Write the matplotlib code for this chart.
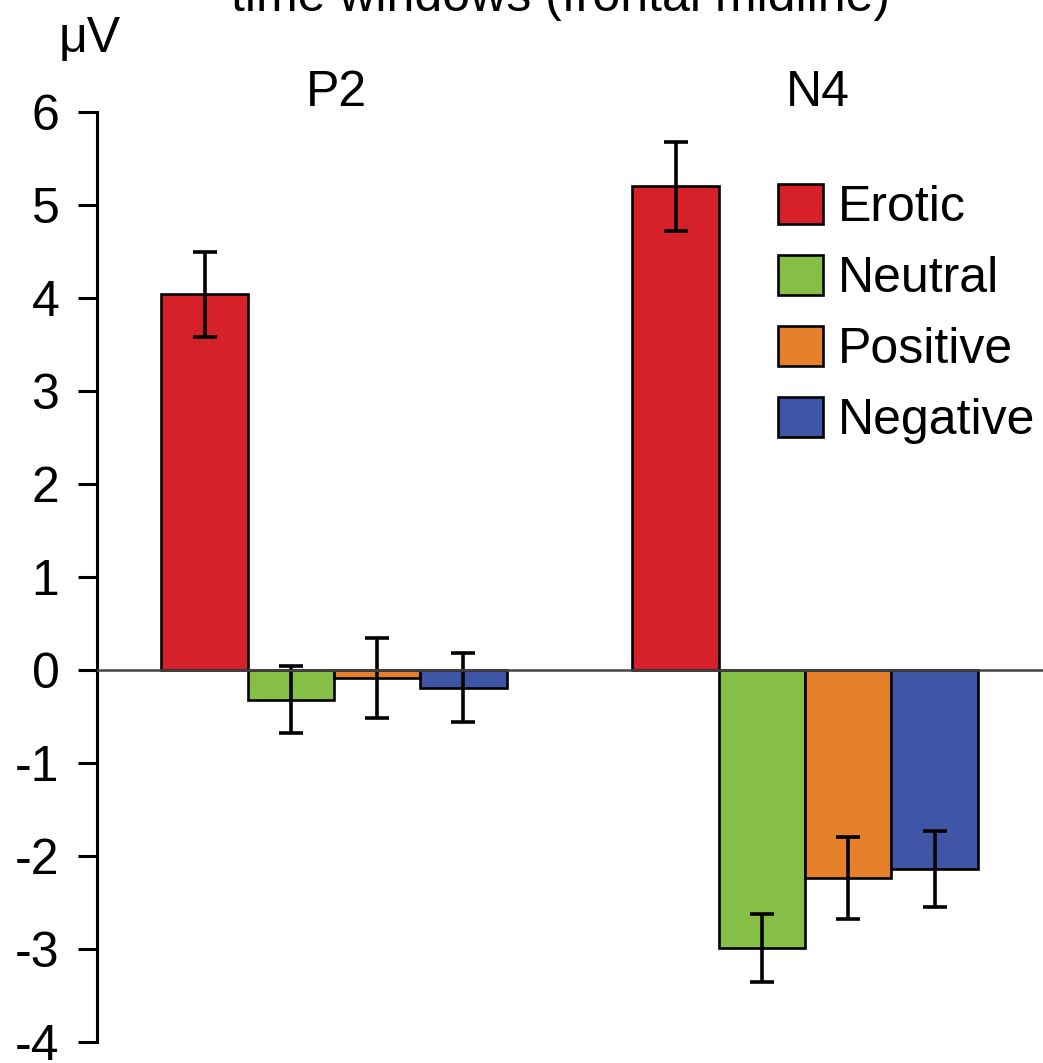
import matplotlib
matplotlib.use("Agg")
import matplotlib.pyplot as plt
import numpy as np

plt.rcParams['font.family'] = ['Liberation Sans', 'DejaVu Sans']
plt.rcParams['axes.unicode_minus'] = False

groups = ['P2', 'N4']
conditions = ['Erotic', 'Neutral', 'Positive', 'Negative']
colors = ['#d7212a', '#86bf45', '#e5802a', '#3f55a6']

erotic = [4.04, 5.20]
neutral = [-0.32, -2.99]
positive = [-0.09, -2.24]
negative = [-0.19, -2.14]

erotic_err = [0.46, 0.475]
neutral_err = [0.36, 0.365]
positive_err = [0.43, 0.44]
negative_err = [0.37, 0.41]

yticks = [6, 5, 4, 3, 2, 1, 0, -1, -2, -3, -4]

values = [erotic, neutral, positive, negative]
errors = [erotic_err, neutral_err, positive_err, negative_err]

fig = plt.figure(figsize=(10.43, 10.63), dpi=100)
ax = fig.add_axes([0.093, 0.0198, 0.907, 0.8748])

x = np.arange(len(groups))
w = 0.1832
for i in range(len(conditions)):
    ax.bar(x + (i - 1.5) * w, values[i], w, color=colors[i], edgecolor='black',
           linewidth=1.9, label=conditions[i], zorder=2)
    ax.errorbar(x + (i - 1.5) * w, values[i], yerr=errors[i], fmt='none',
                ecolor='black', elinewidth=2.6, capsize=8.3, capthick=2.6, zorder=3)

ax.axhline(0, color='#444444', linewidth=1.8, zorder=4)

ax.set_xlim(-0.503, 1.505)
ax.set_ylim(-4, 6)
ax.set_yticks(yticks)
ax.set_yticklabels([str(t) for t in yticks])
ax.set_xticks([])
for s in ['top', 'right', 'bottom']:
    ax.spines[s].set_visible(False)
ax.spines['left'].set_linewidth(2.2)
ax.tick_params(axis='y', direction='out', length=14, width=2.2, pad=13, labelsize=36)

for xi, g, dx in zip(x, groups, [0.005, 0.028]):
    ax.text(xi + dx, 1.006, g, transform=ax.get_xaxis_transform(),
            ha='center', va='baseline', fontsize=36)

fig.text(0.0863, 0.951, 'μV', ha='center', va='baseline', fontsize=36)
fig.text(0.537, 0.9897, 'time windows (frontal midline)', ha='center',
         va='baseline', fontsize=36)

ax.legend(loc='upper left', bbox_to_anchor=(0.746, 0.8269),
          bbox_transform=fig.transFigure, frameon=False, fontsize=36,
          handlelength=0.9, handleheight=0.84, handletextpad=0.3,
          labelspacing=0.48, borderpad=0, borderaxespad=0)

plt.savefig('out.png', dpi=100)
